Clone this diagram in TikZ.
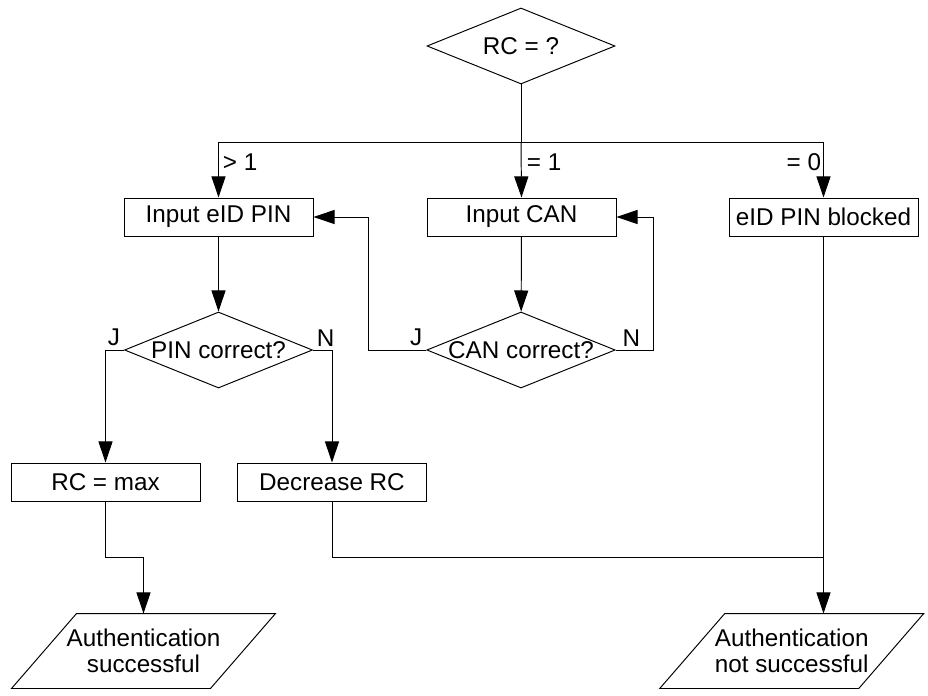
\documentclass[tikz,border=0pt]{standalone}
\usepackage{fontspec}
\setmainfont{Liberation Sans}
\usetikzlibrary{positioning, arrows.meta, shapes.geometric}

\begin{document}
\begin{tikzpicture}[>={Triangle[length=12pt, width=8pt]}, line width=0.55pt,
                    font=\fontsize{13.8}{15}\selectfont,
                    box/.style={draw, rectangle, minimum width=3.78cm, minimum height=0.76cm, inner sep=0pt},
                    decision/.style={draw, diamond, aspect=2.5, minimum width=3.76cm, minimum height=1.52cm, inner sep=0pt},
                    io/.style={minimum width=3.96cm, minimum height=1.48cm, inner sep=0pt, align=center,
                               append after command={\pgfextra{\draw
                                 ([xshift=0.65cm]\tikzlastnode.north west) -- ([xshift=0.65cm]\tikzlastnode.north east)
                                 -- ([xshift=-0.65cm]\tikzlastnode.south east) -- ([xshift=-0.65cm]\tikzlastnode.south west)
                                 -- cycle;}}},
                    branch label/.style={inner sep=0pt},
                    answer/.style={inner sep=2pt}]
    \useasboundingbox (0,0) rectangle (18.56,13.9);

    % Decisions
    \node[decision] (rc)     at (10.42, 12.98) {RC = ?};
    \node[decision] (pindia) at (4.37, 6.9)    {PIN correct?};
    \node[decision] (candia) at (10.42, 6.9)   {CAN correct?};

    % Steps
    \node[box] (pinbox)   at (4.37, 9.56)  {Input eID PIN};
    \node[box] (canbox)   at (10.43, 9.56) {Input CAN};
    \node[box] (blocked)  at (16.47, 9.56) {eID PIN blocked};
    \node[box] (rcmax)    at (2.11, 4.26)  {RC = max};
    \node[box] (decrease) at (6.64, 4.26)  {Decrease RC};

    % Results
    \node[io] (succ)    at (2.87, 0.88)   {Authentication\\successful};
    \node[io] (notsucc) at (15.835, 0.88) {Authentication\\not successful};

    % Branching on RC
    \coordinate (split) at (10.42, 11.06);
    \draw (rc.south) -- (split);
    \draw[->] (split) -| (pinbox.north);
    \draw[->] (split) -- (canbox.north);
    \draw[->] (split) -| (blocked.north);
    \node[branch label, anchor=north west] at ([shift={(0.08,-0.22)}] pinbox.north |- split) {> 1};
    \node[branch label, anchor=north west] at ([shift={(0.10,-0.22)}] canbox.north |- split) {= 1};
    \node[branch label, anchor=north east] at ([shift={(-0.04,-0.22)}] blocked.north |- split) {= 0};

    % PIN path
    \draw[->] (pinbox) -- (pindia);
    \draw[->] (pindia.west) -| (rcmax.north);
    \draw[->] (pindia.east) -| (decrease.north);
    \node[answer, anchor=south east] at (pindia.west) {J};
    \node[answer, anchor=south west] at (pindia.east) {N};

    % CAN path
    \draw[->] (canbox) -- (candia);
    \draw[->] (candia.west) -- ++(-1.16,0) |- (pinbox.east);
    \draw[->] (candia.east) -- ++(0.76,0) |- (canbox.east);
    \node[answer, anchor=south east] at (candia.west) {J};
    \node[answer, anchor=south west] at ([xshift=0.06cm] candia.east) {N};

    % Endings
    \draw[->] (rcmax.south) -- ++(0,-1.12) -| (succ.north);
    \coordinate (merge) at (blocked.south |- 0,2.76);
    \draw (blocked.south) -- (merge);
    \draw (decrease.south) |- (merge);
    \draw[->] (merge) -- (merge |- notsucc.north);
\end{tikzpicture}
\end{document}
